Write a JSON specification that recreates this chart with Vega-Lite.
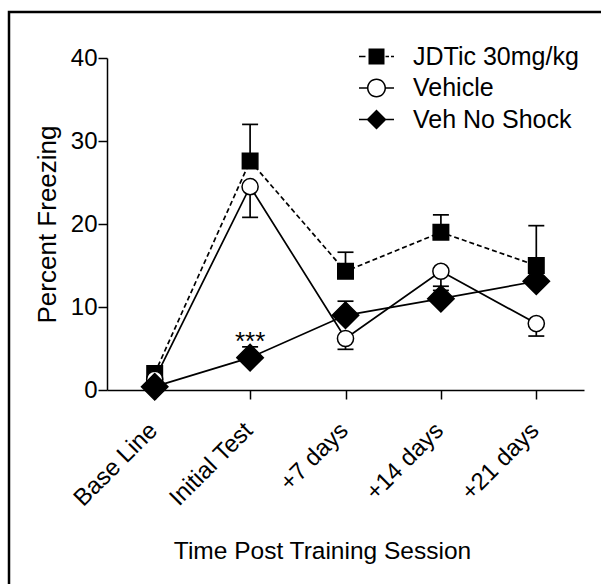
{
  "$schema": "https://vega.github.io/schema/vega-lite/v6.json",
  "autosize": {"type": "none"},
  "padding": {"left": 9, "top": 12, "right": 0, "bottom": 0},
  "width": 592,
  "height": 572,
  "background": "white",
  "config": {
    "font": "Liberation Sans",
    "view": {"stroke": "black", "strokeWidth": 2.5, "strokeDash": [592, 1164, 572]},
    "axis": {"grid": false, "domainColor": "black", "tickColor": "black", "labelColor": "black", "titleColor": "black", "domainWidth": 1.5, "tickWidth": 1.5, "labelFont": "Liberation Sans", "titleFont": "Liberation Sans", "titleFontWeight": "normal"},
    "legend": {"labelFont": "Liberation Sans"}
  },
  "data": {
    "values": [
      {"time": "Base Line", "series": "JDTic 30mg/kg", "mean": 2.0, "err": null},
      {"time": "Initial Test", "series": "JDTic 30mg/kg", "mean": 27.6, "err": 32.0},
      {"time": "+7 days", "series": "JDTic 30mg/kg", "mean": 14.3, "err": 16.6},
      {"time": "+14 days", "series": "JDTic 30mg/kg", "mean": 19.0, "err": 21.1},
      {"time": "+21 days", "series": "JDTic 30mg/kg", "mean": 15.0, "err": 19.8},
      {"time": "Base Line", "series": "Vehicle", "mean": 1.3, "err": null},
      {"time": "Initial Test", "series": "Vehicle", "mean": 24.5, "err": 20.8},
      {"time": "+7 days", "series": "Vehicle", "mean": 6.2, "err": 4.9},
      {"time": "+14 days", "series": "Vehicle", "mean": 14.3, "err": 12.0},
      {"time": "+21 days", "series": "Vehicle", "mean": 8.0, "err": 6.5},
      {"time": "Base Line", "series": "Veh No Shock", "mean": 0.4, "err": null},
      {"time": "Initial Test", "series": "Veh No Shock", "mean": 3.9, "err": 5.2},
      {"time": "+7 days", "series": "Veh No Shock", "mean": 9.0, "err": 10.7},
      {"time": "+14 days", "series": "Veh No Shock", "mean": 11.0, "err": 12.5},
      {"time": "+21 days", "series": "Veh No Shock", "mean": 13.1, "err": null}
    ]
  },
  "encoding": {
    "x": {
      "field": "time", "type": "nominal",
      "sort": ["Base Line", "Initial Test", "+7 days", "+14 days", "+21 days"],
      "scale": {"type": "point", "range": [98, 575], "padding": 0.5},
      "axis": {
        "title": "Time Post Training Session", "titleFontSize": 24.5, "titleX": 313, "titleY": 168, "titleBaseline": "alphabetic", "titleAlign": "center", "titleAnchor": null,
        "offset": -194, "labelAngle": -45, "labelFontSize": 24, "labelPadding": 19, "labelOffset": -10, "tickSize": 9
      }
    }
  },
  "layer": [
    {
      "transform": [{"filter": "datum.series === 'JDTic 30mg/kg'"}],
      "mark": {"type": "line", "strokeWidth": 1.7, "color": "black", "strokeDash": [5, 3]},
      "encoding": {
        "y": {
          "field": "mean", "type": "quantitative",
          "scale": {"domain": [0, 40], "range": [378, 46], "nice": false, "zero": true},
          "axis": {
            "title": "Percent Freezing", "titleFontSize": 26, "titleAngle": 270, "titleX": -52, "titleY": 212, "titleAlign": "center", "titleBaseline": "alphabetic", "titleAnchor": null,
            "values": [0, 10, 20, 30, 40], "offset": -98, "labelFontSize": 24, "labelPadding": 1, "tickSize": 9
          }
        }
      }
    },
    {
      "transform": [{"filter": "datum.series !== 'JDTic 30mg/kg'"}],
      "mark": {"type": "line", "strokeWidth": 1.7, "color": "black"},
      "encoding": {
        "y": {"field": "mean", "type": "quantitative"},
        "detail": {"field": "series"}
      }
    },
    {
      "transform": [{"filter": "datum.err != null"}],
      "mark": {"type": "rule", "strokeWidth": 1.7, "color": "black"},
      "encoding": {
        "y": {"field": "mean", "type": "quantitative"},
        "y2": {"field": "err"}
      }
    },
    {
      "transform": [{"filter": "datum.err != null"}],
      "mark": {"type": "tick", "size": 16, "thickness": 1.7, "color": "black", "opacity": 1},
      "encoding": {
        "y": {"field": "err", "type": "quantitative"}
      }
    },
    {
      "mark": {"type": "point", "filled": true, "stroke": "black", "strokeWidth": 1.5, "opacity": 1},
      "encoding": {
        "y": {"field": "mean", "type": "quantitative"},
        "shape": {
          "condition": [
            {"test": "datum.series === 'JDTic 30mg/kg'", "value": "square"},
            {"test": "datum.series === 'Vehicle'", "value": "circle"}
          ],
          "value": "diamond"
        },
        "fill": {
          "condition": {"test": "datum.series === 'Vehicle'", "value": "white"},
          "value": "black"
        },
        "size": {
          "condition": [
            {"test": "datum.series === 'Veh No Shock'", "value": 700},
            {"test": "datum.series === 'Vehicle'", "value": 260}
          ],
          "value": 240
        }
      }
    },
    {
      "transform": [{"filter": "datum.mean < -100"}],
      "mark": {"type": "point", "filled": true, "fill": "black", "strokeWidth": 0, "opacity": 1},
      "encoding": {
        "y": {"field": "mean", "type": "quantitative"},
        "shape": {
          "field": "series", "type": "nominal",
          "scale": {
            "domain": ["JDTic 30mg/kg", "Vehicle", "Veh No Shock"],
            "range": [
              "M-1.75,-0.08H-1.1V0.08H-1.75ZM-0.8,-0.8H0.8V0.8H-0.8ZM0.9,-0.08H1.25V0.08H0.9ZM1.45,-0.08H1.75V0.08H1.45Z",
              "M-1.75,-0.08H-0.9V0.08H-1.75ZM0.9,-0.08H1.75V0.08H0.9ZM0.95,0A0.95,0.95 0 1,1 -0.95,0A0.95,0.95 0 1,1 0.95,0ZM0.8,0A0.8,0.8 0 1,0 -0.8,0A0.8,0.8 0 1,0 0.8,0Z",
              "M-1.75,-0.08H1.75V0.08H-1.75ZM-1,0L0,-1L1,0L0,1Z"
            ]
          },
          "legend": {
            "title": null, "orient": "none", "legendX": 355, "legendY": 32, "padding": 0,
            "labelFontSize": 25, "labelColor": "black", "labelOffset": 24, "labelLimit": 400, "rowPadding": 5.5, "symbolSize": 400,
            "symbolFillColor": "black", "symbolStrokeWidth": 0, "symbolOpacity": 1,
            "labelFont": "Liberation Sans"
          }
        }
      }
    },
    {
      "data": {"values": [{"time": "Initial Test", "y": 4.8, "label": "***"}]},
      "mark": {"type": "text", "fontSize": 26, "color": "black", "baseline": "alphabetic", "align": "center"},
      "encoding": {
        "y": {"field": "y", "type": "quantitative"},
        "text": {"field": "label"}
      }
    }
  ]
}
